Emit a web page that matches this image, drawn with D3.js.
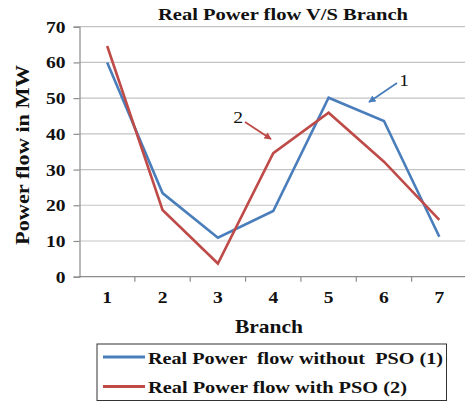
<!DOCTYPE html>
<html>
<head>
<meta charset="utf-8">
<script src="https://cdn.jsdelivr.net/npm/d3@7"></script>
<style>
  html, body { margin: 0; padding: 0; background: #fff; }
  svg { display: block; }
  text { font-family: "Liberation Serif", "Times New Roman", serif; font-weight: bold; fill: #111; }
</style>
</head>
<body>
<svg id="chart" width="465" height="403"></svg>
<script>
// Branch numbers and real power flow (MW) per branch
const branches = ["1", "2", "3", "4", "5", "6", "7"];
const withoutPSO = [60, 23.4, 10.9, 18.4, 50.1, 43.6, 11.2];
const withPSO = [64.6, 18.7, 3.7, 34.6, 45.9, 32.2, 15.9];
const yTicks = [0, 10, 20, 30, 40, 50, 60, 70];
const seriesNames = ["Real Power  flow without  PSO (1)", "Real Power flow with PSO (2)"];
const seriesColors = ["#4A7EBB", "#BE4B48"];

const svg = d3.select("#chart");
const plotLeft = 79.5, plotRight = 467, plotTop = 26.7, plotBottom = 276.7;
const sx = 1.22; // horizontal stretch applied to the lettering

const x = d3.scaleBand().domain(branches).range([plotLeft, plotRight]);
const y = d3.scaleLinear().domain([0, 70]).range([plotBottom, plotTop]);

// horizontal gridlines
svg.append("g").selectAll("line").data(yTicks.filter(d => d > 0)).join("line")
  .attr("x1", plotLeft).attr("x2", 465)
  .attr("y1", d => y(d)).attr("y2", d => y(d))
  .attr("stroke", "#c4c4c4").attr("stroke-width", 1.2);

// y axis
const yAxis = svg.append("g").attr("transform", `translate(${plotLeft},0)`)
  .call(d3.axisLeft(y).tickValues(yTicks).tickSize(6).tickPadding(8));
yAxis.select(".domain").attr("stroke", "#8c8c8c").attr("stroke-width", 1.2);
yAxis.selectAll(".tick line").attr("stroke", "#8c8c8c").attr("stroke-width", 1.2);
yAxis.selectAll(".tick text")
  .attr("x", -14 / sx).attr("dy", "0.34em")
  .attr("transform", `scale(${sx},1)`)
  .attr("font-size", 16).attr("fill", "#111")
  .style("font-family", "'Liberation Serif', serif").style("font-weight", "bold");

// x axis with ticks on band boundaries
const xAxis = svg.append("g").attr("transform", `translate(0,${plotBottom})`);
xAxis.append("line").attr("x1", plotLeft).attr("x2", 465).attr("y1", 0).attr("y2", 0)
  .attr("stroke", "#8c8c8c").attr("stroke-width", 1.2);
xAxis.selectAll("line.tk").data(branches.slice(1)).join("line").attr("class", "tk")
  .attr("x1", d => x(d)).attr("x2", d => x(d)).attr("y1", 0).attr("y2", 5)
  .attr("stroke", "#8c8c8c").attr("stroke-width", 1.2);
xAxis.selectAll("text").data(branches).join("text")
  .attr("transform", d => `translate(${x(d) + x.bandwidth() / 2},26.5) scale(${sx},1)`)
  .attr("text-anchor", "middle").attr("font-size", 16).text(d => d);

// series lines
const line = d3.line()
  .x((d, i) => x(branches[i]) + x.bandwidth() / 2)
  .y(d => y(d));
[withoutPSO, withPSO].forEach((vals, k) => {
  svg.append("path").datum(vals).attr("d", line)
    .attr("fill", "none").attr("stroke", seriesColors[k])
    .attr("stroke-width", 2.6).attr("stroke-linejoin", "miter");
});

// title and axis labels
svg.append("text").attr("x", 283).attr("y", 20).attr("text-anchor", "middle")
  .attr("font-size", 17).attr("textLength", 250).attr("lengthAdjust", "spacingAndGlyphs")
  .text("Real Power flow V/S Branch");
svg.append("text").attr("transform", "translate(28.5,155) rotate(-90)")
  .attr("text-anchor", "middle").attr("font-size", 19)
  .attr("textLength", 180).attr("lengthAdjust", "spacingAndGlyphs")
  .text("Power flow in MW");
svg.append("text").attr("x", 269).attr("y", 333).attr("text-anchor", "middle")
  .attr("font-size", 19.5).attr("textLength", 68).attr("lengthAdjust", "spacingAndGlyphs")
  .text("Branch");

// arrow annotations
const defs = svg.append("defs");
seriesColors.forEach((c, k) => {
  defs.append("marker").attr("id", "arr" + k)
    .attr("viewBox", "0 0 10 10").attr("refX", 9).attr("refY", 5)
    .attr("markerWidth", 4).attr("markerHeight", 4).attr("orient", "auto")
    .append("path").attr("d", "M0,0 L10,5 L0,10 Z").attr("fill", c);
});
svg.append("line").attr("x1", 397).attr("y1", 83).attr("x2", 369).attr("y2", 102)
  .attr("stroke", seriesColors[0]).attr("stroke-width", 1.8).attr("marker-end", "url(#arr0)");
svg.append("text").attr("transform", `translate(404,86) scale(${sx},1)`).attr("text-anchor", "middle")
  .attr("font-size", 16).style("font-weight", "normal").text("1");
svg.append("line").attr("x1", 245).attr("y1", 122).attr("x2", 271).attr("y2", 139)
  .attr("stroke", seriesColors[1]).attr("stroke-width", 1.8).attr("marker-end", "url(#arr1)");
svg.append("text").attr("transform", `translate(238,123) scale(${sx},1)`).attr("text-anchor", "middle")
  .attr("font-size", 16).style("font-weight", "normal").text("2");

// legend
const legendWidths = [295, 259];
const lg = svg.append("g");
lg.append("rect").attr("x", 97).attr("y", 344).attr("width", 349.5).attr("height", 56.5)
  .attr("fill", "#fff").attr("stroke", "#333").attr("stroke-width", 1);
seriesNames.forEach((name, k) => {
  const cy = 357 + k * 29.5;
  lg.append("line").attr("x1", 103).attr("x2", 145).attr("y1", cy).attr("y2", cy)
    .attr("stroke", seriesColors[k]).attr("stroke-width", 2.8);
  lg.append("text").attr("x", 148).attr("y", cy + 6.5).attr("font-size", 17)
    .attr("textLength", legendWidths[k]).attr("lengthAdjust", "spacingAndGlyphs")
    .style("white-space", "pre").text(name);
});
</script>
</body>
</html>
